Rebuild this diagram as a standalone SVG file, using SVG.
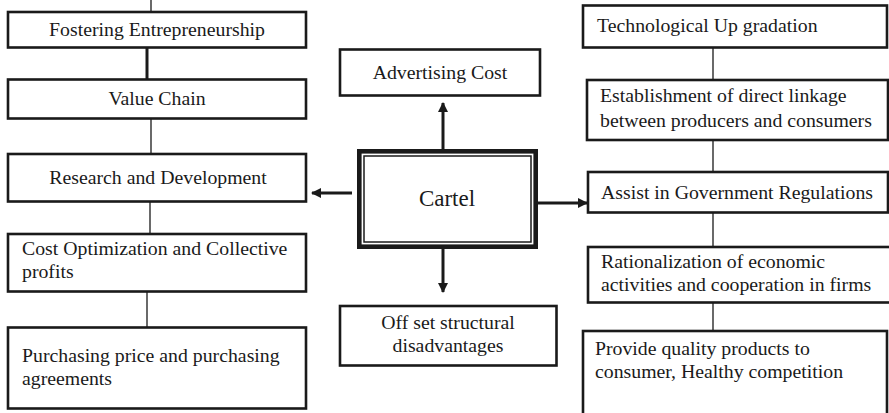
<svg xmlns="http://www.w3.org/2000/svg" width="889" height="413" viewBox="0 0 889 413">
<style>
.box{fill:#fff;stroke:#1a1a1a;stroke-width:2.6}
.t{font-family:"Liberation Serif","Times New Roman",serif;font-size:19.8px;fill:#1a1a1a}
.c{text-anchor:middle}
.thin{stroke:#1a1a1a;stroke-width:1.3;fill:none}
.arr{stroke:#1a1a1a;stroke-width:3;fill:none}
</style>
<defs>
<marker id="ah" viewBox="0 0 10 10" refX="9" refY="5" markerWidth="3.4" markerHeight="3.4" orient="auto" markerUnits="strokeWidth">
<path d="M0,0 L10,5 L0,10 z" fill="#1a1a1a"/>
</marker>
</defs>
<rect width="889" height="413" fill="#fff"/>
<g id="connectors">
<line class="thin" x1="151" y1="0" x2="151" y2="12"/>
<line x1="147" y1="48" x2="147" y2="79" stroke="#1a1a1a" stroke-width="3"/>
<line class="thin" x1="151" y1="119" x2="151" y2="154"/>
<line class="thin" x1="150" y1="202" x2="150" y2="234"/>
<line class="thin" x1="147" y1="292" x2="147" y2="327"/>
<line class="thin" x1="713" y1="48" x2="713" y2="80"/>
<line class="thin" x1="713" y1="140" x2="713" y2="172"/>
<line class="thin" x1="713" y1="213" x2="713" y2="247"/>
<line class="thin" x1="713" y1="303" x2="713" y2="331"/>
<line class="arr" x1="443" y1="149" x2="443" y2="103" marker-end="url(#ah)"/>
<line class="arr" x1="443" y1="249" x2="443" y2="292" marker-end="url(#ah)"/>
<line class="arr" x1="352" y1="193" x2="312" y2="193" marker-end="url(#ah)"/>
<line class="arr" x1="538" y1="203" x2="587" y2="203" marker-end="url(#ah)"/>
</g>
<g id="cartel">
<rect x="359.3" y="151.3" width="176.4" height="95.4" fill="#fff" stroke="#1a1a1a" stroke-width="4.6"/>
<rect x="364" y="156" width="167" height="86" fill="none" stroke="#1a1a1a" stroke-width="1.5"/>
<text class="t c" x="447" y="206" style="font-size:23px">Cartel</text>
</g>
<g id="fostering">
<rect class="box" x="8" y="12" width="298" height="35.5"/>
<text class="t c" x="157" y="36">Fostering Entrepreneurship</text>
</g>
<g id="value-chain">
<rect class="box" x="8" y="79.5" width="298" height="39"/>
<text class="t c" x="157" y="105">Value Chain</text>
</g>
<g id="research">
<rect class="box" x="8" y="154" width="298" height="47.5"/>
<text class="t c" x="158" y="183.5">Research and Development</text>
</g>
<g id="cost">
<rect class="box" x="8" y="234" width="298" height="57.5"/>
<text class="t" x="22" y="255">Cost Optimization and Collective</text>
<text class="t" x="22" y="277.5">profits</text>
</g>
<g id="purchasing">
<rect class="box" x="8" y="327.5" width="298" height="81"/>
<text class="t" x="22" y="362">Purchasing price and purchasing</text>
<text class="t" x="22" y="384.5">agreements</text>
</g>
<g id="advertising">
<rect class="box" x="340" y="49.5" width="200" height="46"/>
<text class="t c" x="440" y="78.5">Advertising Cost</text>
</g>
<g id="offset">
<rect class="box" x="340" y="306" width="216.5" height="59.5"/>
<text class="t c" x="448" y="329">Off set structural</text>
<text class="t c" x="448" y="352">disadvantages</text>
</g>
<g id="technological">
<rect class="box" x="583" y="5.5" width="304" height="42"/>
<text class="t" x="597" y="32">Technological Up gradation</text>
</g>
<g id="establishment">
<rect class="box" x="587" y="80" width="301" height="60"/>
<text class="t" x="600" y="102">Establishment of direct linkage</text>
<text class="t" x="600" y="127">between producers and consumers</text>
</g>
<g id="assist">
<rect class="box" x="588" y="172" width="300" height="40.5"/>
<text class="t" x="601" y="199">Assist in Government Regulations</text>
</g>
<g id="rationalization">
<rect class="box" x="588" y="247" width="304" height="55.5"/>
<text class="t" x="601" y="268">Rationalization of economic</text>
<text class="t" x="601" y="291">activities and cooperation in firms</text>
</g>
<g id="provide">
<rect class="box" x="583" y="331" width="304" height="86"/>
<text class="t" x="595" y="355">Provide quality products to</text>
<text class="t" x="595" y="378">consumer, Healthy competition</text>
</g>
</svg>
